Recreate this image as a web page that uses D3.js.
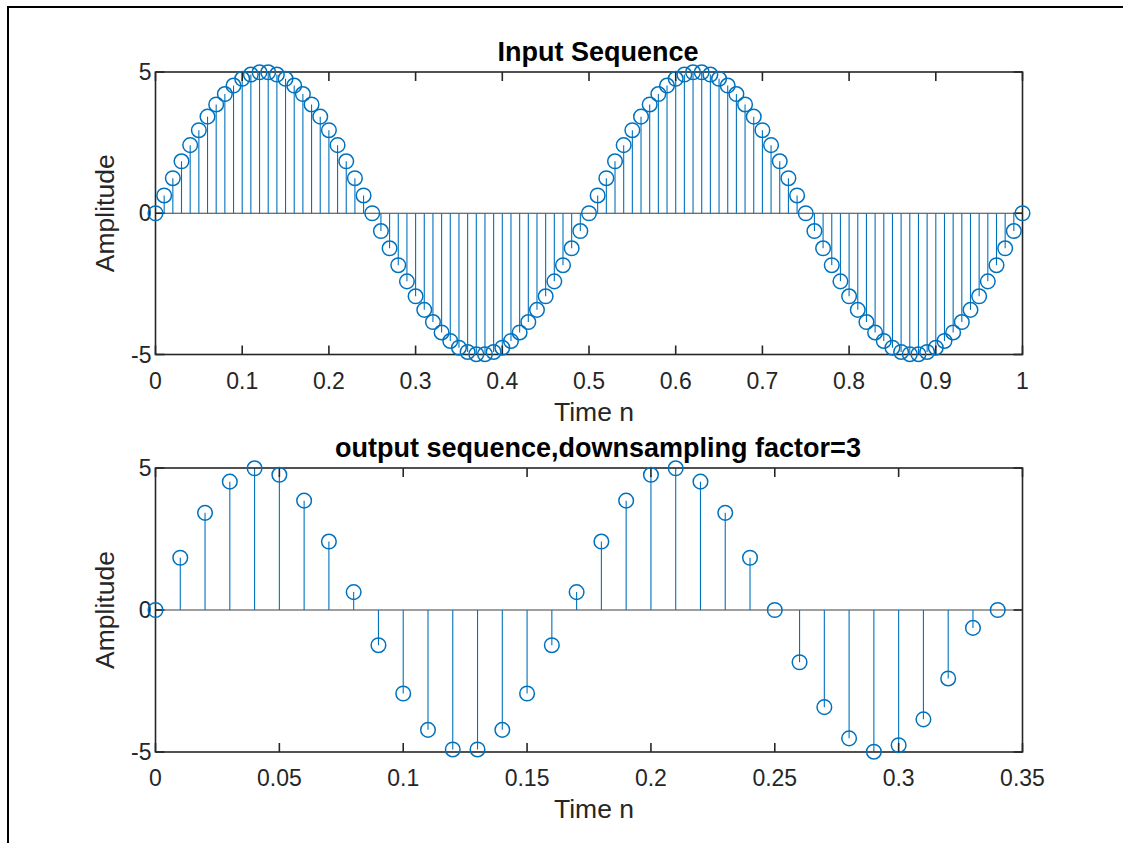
<!DOCTYPE html>
<html lang="en">
<head>
    <meta charset="UTF-8">
    <title>Downsampling</title>
    <script src="https://d3js.org/d3.v7.min.js"></script>
    <style>
        body { margin: 0; background: #fff; }
        text { font-family: "Liberation Sans", Arial, sans-serif; fill: #262626; }
        .tick-label { font-size: 23px; }
        .axis-label { font-size: 26.5px; }
        .title { font-size: 27px; font-weight: bold; fill: #000; }
    </style>
</head>
<body>
    <svg width="1123" height="843"></svg>
    <script>
        // input sequence: time and amplitude
        const inputTime = [
            0.00, 0.01, 0.02, 0.03, 0.04, 0.05, 0.06, 0.07, 0.08, 0.09,
            0.10, 0.11, 0.12, 0.13, 0.14, 0.15, 0.16, 0.17, 0.18, 0.19,
            0.20, 0.21, 0.22, 0.23, 0.24, 0.25, 0.26, 0.27, 0.28, 0.29,
            0.30, 0.31, 0.32, 0.33, 0.34, 0.35, 0.36, 0.37, 0.38, 0.39,
            0.40, 0.41, 0.42, 0.43, 0.44, 0.45, 0.46, 0.47, 0.48, 0.49,
            0.50, 0.51, 0.52, 0.53, 0.54, 0.55, 0.56, 0.57, 0.58, 0.59,
            0.60, 0.61, 0.62, 0.63, 0.64, 0.65, 0.66, 0.67, 0.68, 0.69,
            0.70, 0.71, 0.72, 0.73, 0.74, 0.75, 0.76, 0.77, 0.78, 0.79,
            0.80, 0.81, 0.82, 0.83, 0.84, 0.85, 0.86, 0.87, 0.88, 0.89,
            0.90, 0.91, 0.92, 0.93, 0.94, 0.95, 0.96, 0.97, 0.98, 0.99,
            1.00
        ];
        const inputValues = [
            0, 0.63, 1.24, 1.84, 2.41, 2.94, 3.42, 3.85, 4.22, 4.52,
            4.76, 4.91, 4.99, 4.99, 4.91, 4.76, 4.52, 4.22, 3.85, 3.42,
            2.94, 2.41, 1.84, 1.24, 0.63, 0, -0.63, -1.24, -1.84, -2.41,
            -2.94, -3.42, -3.85, -4.22, -4.52, -4.76, -4.91, -4.99, -4.99, -4.91,
            -4.76, -4.52, -4.22, -3.85, -3.42, -2.94, -2.41, -1.84, -1.24, -0.63,
            0, 0.63, 1.24, 1.84, 2.41, 2.94, 3.42, 3.85, 4.22, 4.52,
            4.76, 4.91, 4.99, 4.99, 4.91, 4.76, 4.52, 4.22, 3.85, 3.42,
            2.94, 2.41, 1.84, 1.24, 0.63, 0, -0.63, -1.24, -1.84, -2.41,
            -2.94, -3.42, -3.85, -4.22, -4.52, -4.76, -4.91, -4.99, -4.99, -4.91,
            -4.76, -4.52, -4.22, -3.85, -3.42, -2.94, -2.41, -1.84, -1.24, -0.63,
            0
        ];

        // output sequence (downsampled by 3)
        const outputTime = [
            0.00, 0.01, 0.02, 0.03, 0.04, 0.05, 0.06, 0.07, 0.08, 0.09,
            0.10, 0.11, 0.12, 0.13, 0.14, 0.15, 0.16, 0.17, 0.18, 0.19,
            0.20, 0.21, 0.22, 0.23, 0.24, 0.25, 0.26, 0.27, 0.28, 0.29,
            0.30, 0.31, 0.32, 0.33, 0.34
        ];
        const outputValues = [
            0, 1.84, 3.42, 4.52, 4.99, 4.76, 3.85, 2.41, 0.63, -1.24,
            -2.94, -4.22, -4.91, -4.91, -4.22, -2.94, -1.24, 0.63, 2.41, 3.85,
            4.76, 4.99, 4.52, 3.42, 1.84, 0, -1.84, -3.42, -4.52, -4.99,
            -4.76, -3.85, -2.41, -0.63, 0
        ];

        const inputXTicks = [0, 0.1, 0.2, 0.3, 0.4, 0.5, 0.6, 0.7, 0.8, 0.9, 1];
        const outputXTicks = [0, 0.05, 0.1, 0.15, 0.2, 0.25, 0.3, 0.35];
        const yTicks = [-5, 0, 5];

        const blue = "#0072BD";
        const axisColor = "#262626";
        const svg = d3.select("svg");

        // figure frame (only top and left edges are visible)
        svg.append("path")
            .attr("d", "M8,843 L8,7 L1123,7")
            .attr("fill", "none")
            .attr("stroke", "#000")
            .attr("stroke-width", 2);

        const left = 155.5, right = 1022.5;

        function drawPanel(opts) {
            const x = d3.scaleLinear().domain(opts.xDomain).range([left, right]);
            const y = d3.scaleLinear().domain([-5, 5]).range([opts.bottom, opts.top]);
            const g = svg.append("g");
            const tickLen = 9;

            // baseline at zero
            g.append("line")
                .attr("x1", left).attr("x2", right)
                .attr("y1", y(0)).attr("y2", y(0))
                .attr("stroke", "#404040")
                .attr("stroke-width", 1.2);

            // stems
            g.selectAll(".stem")
                .data(opts.times.map((t, i) => ({ t, v: opts.values[i] })))
                .enter().append("line")
                .attr("class", "stem")
                .attr("x1", d => x(d.t)).attr("x2", d => x(d.t))
                .attr("y1", y(0)).attr("y2", d => y(d.v))
                .attr("stroke", blue)
                .attr("stroke-width", 1.1);

            // axes box
            g.append("rect")
                .attr("x", left).attr("y", opts.top)
                .attr("width", right - left).attr("height", opts.bottom - opts.top)
                .attr("fill", "none")
                .attr("stroke", axisColor)
                .attr("stroke-width", 1.6);

            // ticks, inward on all four sides
            opts.xTicks.forEach(t => {
                g.append("line")
                    .attr("x1", x(t)).attr("x2", x(t))
                    .attr("y1", opts.bottom).attr("y2", opts.bottom - tickLen)
                    .attr("stroke", axisColor).attr("stroke-width", 1.6);
                g.append("line")
                    .attr("x1", x(t)).attr("x2", x(t))
                    .attr("y1", opts.top).attr("y2", opts.top + tickLen)
                    .attr("stroke", axisColor).attr("stroke-width", 1.6);
                g.append("text")
                    .attr("class", "tick-label")
                    .attr("x", x(t))
                    .attr("y", opts.bottom + 34)
                    .attr("text-anchor", "middle")
                    .text(t);
            });
            yTicks.forEach(t => {
                g.append("line")
                    .attr("x1", left).attr("x2", left + tickLen)
                    .attr("y1", y(t)).attr("y2", y(t))
                    .attr("stroke", axisColor).attr("stroke-width", 1.6);
                g.append("line")
                    .attr("x1", right).attr("x2", right - tickLen)
                    .attr("y1", y(t)).attr("y2", y(t))
                    .attr("stroke", axisColor).attr("stroke-width", 1.6);
                g.append("text")
                    .attr("class", "tick-label")
                    .attr("x", left - 4)
                    .attr("y", y(t) + 8)
                    .attr("text-anchor", "end")
                    .text(t < 0 ? "-" + Math.abs(t) : t);
            });

            // markers
            g.selectAll(".marker")
                .data(opts.times.map((t, i) => ({ t, v: opts.values[i] })))
                .enter().append("circle")
                .attr("class", "marker")
                .attr("cx", d => x(d.t))
                .attr("cy", d => y(d.v))
                .attr("r", 7.3)
                .attr("fill", "none")
                .attr("stroke", blue)
                .attr("stroke-width", 1.5);

            // labels
            g.append("text")
                .attr("class", "title")
                .attr("x", (left + right) / 2 + 9)
                .attr("y", opts.top - 11)
                .attr("text-anchor", "middle")
                .text(opts.title);
            g.append("text")
                .attr("class", "axis-label")
                .attr("x", (left + right) / 2 + 5)
                .attr("y", opts.bottom + 66)
                .attr("text-anchor", "middle")
                .text("Time n");
            g.append("text")
                .attr("class", "axis-label")
                .attr("transform", `translate(114, ${(opts.top + opts.bottom) / 2}) rotate(-90)`)
                .attr("text-anchor", "middle")
                .text("Amplitude");
        }

        drawPanel({
            top: 72, bottom: 354.5, xDomain: [0, 1], xTicks: inputXTicks,
            times: inputTime, values: inputValues, title: "Input Sequence"
        });
        drawPanel({
            top: 468, bottom: 752, xDomain: [0, 0.35], xTicks: outputXTicks,
            times: outputTime, values: outputValues,
            title: "output sequence,downsampling factor=3"
        });
    </script>
</body>
</html>
